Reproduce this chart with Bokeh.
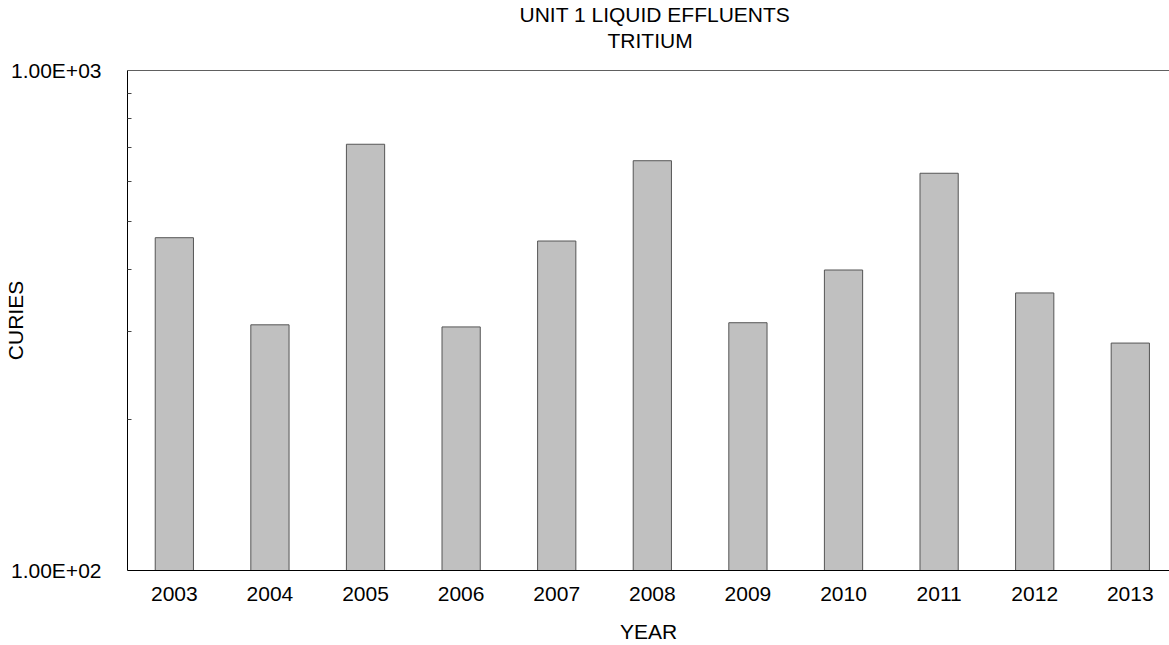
import math
from bokeh.plotting import figure
from bokeh.models import Range1d, FixedTicker, LinearAxis, Title, ColumnDataSource
from bokeh.embed import file_html
from bokeh.resources import INLINE

# ---- data ----
years = [2003, 2004, 2005, 2006, 2007, 2008, 2009, 2010, 2011, 2012, 2013]
curies = [463, 310, 712, 307, 456, 660, 313, 399, 623, 359, 285]
y_ticks = [100, 1000]
y_tick_labels = ["1.00E+02", "1.00E+03"]
y_minor_ticks = [200, 300, 400, 500, 600, 700, 800, 900]
title_lines = ["UNIT 1 LIQUID EFFLUENTS", "TRITIUM"]
x_label = "YEAR"
y_label = "CURIES"

FONT = "Liberation Sans"
FS = "21px"

x_start, x_end = 2002.51, 2013.41
y_start, y_end = y_ticks[0], y_ticks[-1]

p = figure(width=1169, height=645, output_backend="svg", toolbar_location=None,
           x_range=Range1d(x_start, x_end), y_range=Range1d(y_start, y_end),
           y_axis_type="log", title=None,
           min_border_left=127, min_border_right=0, min_border_top=70, min_border_bottom=74)
p.outline_line_color = None
p.xgrid.visible = False
p.ygrid.visible = False
p.background_fill_color = "white"
p.border_fill_color = "white"

src = ColumnDataSource(dict(x=years, top=curies))
p.vbar(x="x", top="top", bottom=y_start, width=0.4, source=src,
       fill_color="#c0c0c0", line_color="#555555", line_width=1)

# x axis
xa = p.xaxis[0]
xa.ticker = FixedTicker(ticks=years)
xa.major_label_overrides = {y: str(y) for y in years}
xa.major_tick_in = 0
xa.major_tick_out = 0
xa.minor_tick_line_color = None
xa.axis_line_color = "black"
xa.major_label_standoff = 16
xa.major_label_text_font = FONT
xa.major_label_text_font_size = FS
xa.major_label_text_color = "black"
xa.major_label_text_line_height = 1.0
xa.axis_label = x_label
xa.axis_label_text_font = FONT
xa.axis_label_text_font_size = FS
xa.axis_label_text_font_style = "normal"
xa.axis_label_text_color = "black"
xa.axis_label_text_line_height = 1.0
xa.axis_label_standoff = 16

# y axis
ya = p.yaxis[0]
ya.ticker = FixedTicker(ticks=y_ticks, minor_ticks=y_minor_ticks)
ya.major_label_overrides = {t: l for t, l in zip(y_ticks, y_tick_labels)}
ya.major_tick_in = 0
ya.major_tick_out = 0
ya.minor_tick_in = 4
ya.minor_tick_out = 0
ya.minor_tick_line_color = "#444444"
ya.axis_line_color = "black"
ya.major_label_standoff = 26
ya.major_label_text_font = FONT
ya.major_label_text_font_size = FS
ya.major_label_text_color = "black"
ya.axis_label = y_label
ya.axis_label_text_font = FONT
ya.axis_label_text_font_size = FS
ya.axis_label_text_font_style = "normal"
ya.axis_label_text_color = "black"
ya.axis_label_standoff = -19

# top border line; a blank axis label reserves the gap below the title
top_axis = LinearAxis(ticker=FixedTicker(ticks=[]), major_label_text_font_size="0px",
                      major_tick_line_color=None, minor_tick_line_color=None,
                      major_tick_in=0, major_tick_out=0, minor_tick_out=0,
                      major_label_standoff=0,
                      axis_label=" ", axis_label_text_font_size="12px",
                      axis_label_text_line_height=1.0, axis_label_standoff=1,
                      axis_line_color="#606060", axis_line_width=1)
p.add_layout(top_axis, "above")

# titles (second line first: nearest to the plot)
p.add_layout(Title(text=title_lines[1], align="left", offset=480, standoff=2,
                   text_font=FONT, text_font_size=FS, text_font_style="normal",
                   text_color="black"), "above")
p.add_layout(Title(text=title_lines[0], align="left", offset=392, standoff=0,
                   text_font=FONT, text_font_size=FS, text_font_style="normal",
                   text_color="black"), "above")

open("out.html", "w").write(file_html(p, INLINE))
